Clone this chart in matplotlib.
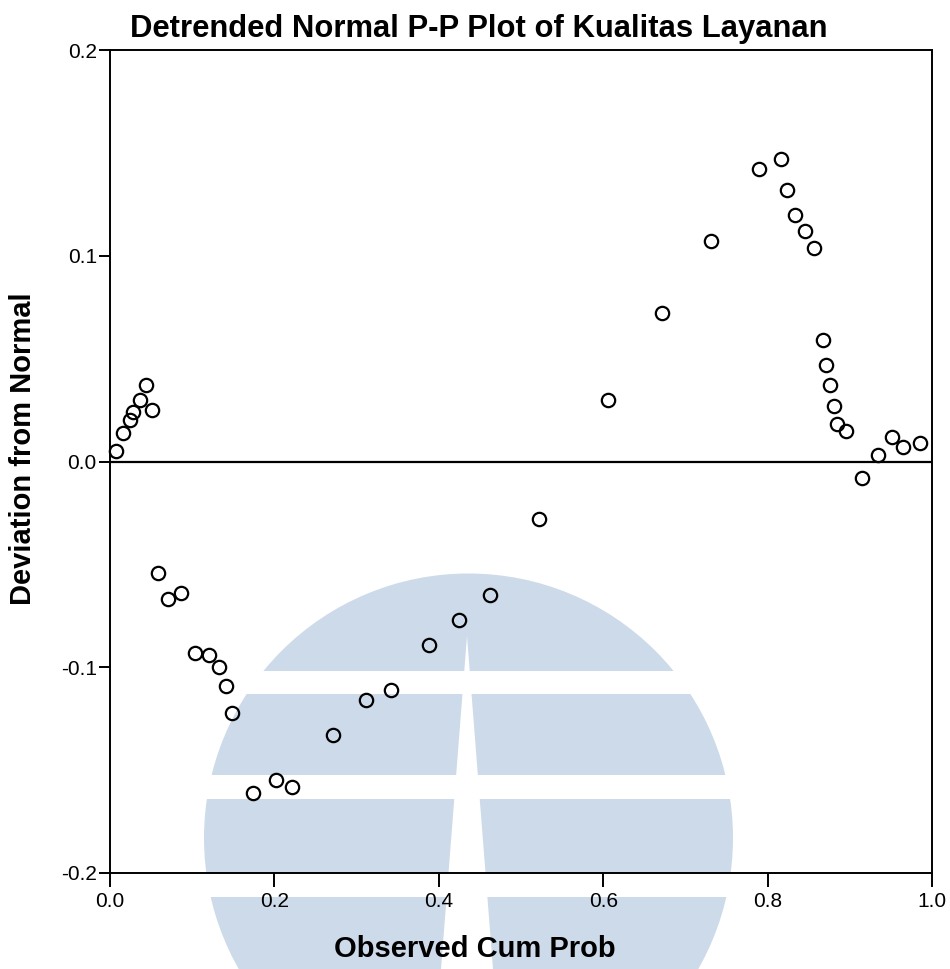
"""Detrended Normal P-P Plot of Kualitas Layanan (SPSS-style), with faint logo watermark."""
import matplotlib
matplotlib.use("Agg")
import matplotlib.pyplot as plt
from matplotlib.patches import Circle, Rectangle, Polygon

plt.rcParams["font.family"] = ["Liberation Sans", "DejaVu Sans"]

# observed cumulative probability vs deviation from normal
obs_cum_prob = [0.007, 0.016, 0.024, 0.028, 0.036, 0.044, 0.051,
                0.058, 0.070, 0.086, 0.103, 0.120, 0.132, 0.141, 0.149,
                0.174, 0.202, 0.221, 0.271, 0.312, 0.342, 0.388, 0.425, 0.462,
                0.522,
                0.606, 0.672, 0.731, 0.790, 0.816, 0.823, 0.833, 0.846, 0.857,
                0.867, 0.871, 0.876, 0.881, 0.885, 0.895,
                0.915, 0.934, 0.951, 0.965, 0.985]
deviation = [0.005, 0.014, 0.020, 0.024, 0.030, 0.037, 0.025,
             -0.054, -0.067, -0.064, -0.093, -0.094, -0.100, -0.109, -0.122,
             -0.161, -0.155, -0.158, -0.133, -0.116, -0.111, -0.089, -0.077, -0.065,
             -0.028,
             0.030, 0.072, 0.107, 0.142, 0.147, 0.132, 0.120, 0.112, 0.104,
             0.059, 0.047, 0.037, 0.027, 0.018, 0.015,
             -0.008, 0.003, 0.012, 0.007, 0.009]

x_ticks = [0.0, 0.2, 0.4, 0.6, 0.8, 1.0]
y_ticks = [-0.2, -0.1, 0.0, 0.1, 0.2]

W, H = 950, 969
fig = plt.figure(figsize=(W / 100, H / 100), dpi=100)

# ---- background watermark (pixel coordinates) ----
bg = fig.add_axes([0, 0, 1, 1], zorder=0)
bg.set_xlim(0, W)
bg.set_ylim(H, 0)
bg.axis("off")
WM = "#cddaea"
bg.add_patch(Circle((468.5, 838), 264.5, facecolor=WM, edgecolor="none"))
for y0, y1 in ((671, 694), (775, 799), (873, 897)):
    bg.add_patch(Rectangle((150, y0), 650, y1 - y0, facecolor="white", edgecolor="none"))
bg.add_patch(Polygon([(467, 636), (441, H), (493, H)], closed=True,
                     facecolor="white", edgecolor="none"))

# ---- main plot ----
ax = fig.add_axes([110 / W, 1 - 873 / H, 822 / W, 823 / H], zorder=1)
ax.set_facecolor("none")
ax.axhline(0, color="black", lw=1.6, zorder=2)
ax.plot(obs_cum_prob, deviation, "o", ms=9.6, mfc="none", mec="black",
        mew=1.6, zorder=3, clip_on=False)

ax.set_xlim(0, 1)
ax.set_ylim(-0.2, 0.2)
ax.set_xticks(x_ticks)
ax.set_xticklabels([f"{v:.1f}" for v in x_ticks])
ax.set_yticks(y_ticks)
ax.set_yticklabels([f"{v:.1f}" for v in y_ticks])
ax.tick_params(axis="x", length=10, width=1.4, pad=4, labelsize=15)
ax.tick_params(axis="y", length=8, width=1.4, pad=1.5, labelsize=15)
for s in ax.spines.values():
    s.set_linewidth(1.4)

fig.text(0.5, 1 - 949 / H, "Observed Cum Prob", ha="center", va="center",
         fontsize=21, fontweight="bold")
fig.text(23 / W, 1 - 449 / H, "Deviation from Normal", ha="center", va="center",
         rotation=90, fontsize=21, fontweight="bold")
fig.text(479 / W, 1 - 37 / H, "Detrended Normal P-P Plot of Kualitas Layanan",
         ha="center", va="baseline", fontsize=22.3, fontweight="bold")

fig.savefig("out.png", dpi=100)
